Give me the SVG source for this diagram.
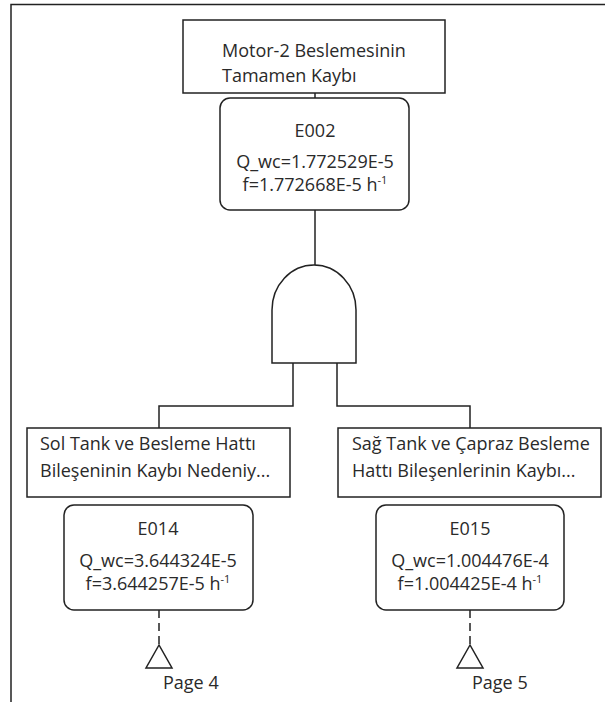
<svg xmlns="http://www.w3.org/2000/svg" width="605" height="702" viewBox="0 0 605 702">
<style>
.box{fill:#fff;stroke:#222;stroke-width:1.5}
.ln{fill:none;stroke:#222;stroke-width:1.5}
.dash{fill:none;stroke:#222;stroke-width:1.5;stroke-dasharray:8,5}
text{font-family:"Open Sans","Noto Sans",sans-serif;font-size:18px;fill:#2a2a2a}
.c{text-anchor:middle}
.sup{font-size:11px}
</style>
<rect x="0" y="0" width="605" height="702" fill="#fff"/>
<path class="ln" d="M11,702 V4.5 H605" stroke-width="2"/>
<g id="connectors">
<line class="ln" x1="315" y1="93" x2="315" y2="98"/>
<line class="ln" x1="315" y1="210" x2="315" y2="265"/>
<path class="ln" d="M293,363 V406 H159 V428"/>
<path class="ln" d="M337,363 V406 H470 V428"/>
<line class="dash" x1="159" y1="610" x2="159" y2="645"/>
<line class="dash" x1="470" y1="610" x2="470" y2="645"/>
</g>
<g id="top">
<rect class="box" x="183" y="20" width="262" height="73"/>
<text x="222" y="57">Motor-2 Beslemesinin</text>
<text x="222" y="82">Tamamen Kaybı</text>
</g>
<g id="E002">
<rect class="box" x="220" y="98" width="189" height="112" rx="10"/>
<text class="c" x="315" y="137">E002</text>
<text class="c" x="315" y="168">Q_wc=1.772529E-5</text>
<text class="c" x="315" y="191">f=1.772668E-5 h<tspan class="sup" dy="-7">-1</tspan></text>
</g>
<g id="gate">
<path class="ln" d="M272,363 V310 A42,45 0 0 1 356,310 V363 Z"/>
</g>
<g id="left">
<rect class="box" x="27" y="428" width="263" height="69"/>
<text x="40" y="450">Sol Tank ve Besleme Hattı</text>
<text x="40" y="477">Bileşeninin Kaybı Nedeniy...</text>
</g>
<g id="right">
<rect class="box" x="338" y="428" width="263" height="69"/>
<text x="352" y="450">Sağ Tank ve Çapraz Besleme</text>
<text x="352" y="477">Hattı Bileşenlerinin Kaybı...</text>
</g>
<g id="E014">
<rect class="box" x="64" y="505" width="189" height="105" rx="10"/>
<text class="c" x="158" y="535">E014</text>
<text class="c" x="158" y="567">Q_wc=3.644324E-5</text>
<text class="c" x="158" y="590">f=3.644257E-5 h<tspan class="sup" dy="-7">-1</tspan></text>
</g>
<g id="E015">
<rect class="box" x="376" y="505" width="188" height="105" rx="10"/>
<text class="c" x="470" y="535">E015</text>
<text class="c" x="470" y="567">Q_wc=1.004476E-4</text>
<text class="c" x="470" y="590">f=1.004425E-4 h<tspan class="sup" dy="-7">-1</tspan></text>
</g>
<g id="page4">
<path class="ln" d="M159,645 L146,668 H172 Z"/>
<text x="163" y="689">Page 4</text>
</g>
<g id="page5">
<path class="ln" d="M470,645 L457,668 H483 Z"/>
<text x="472" y="689">Page 5</text>
</g>
</svg>
